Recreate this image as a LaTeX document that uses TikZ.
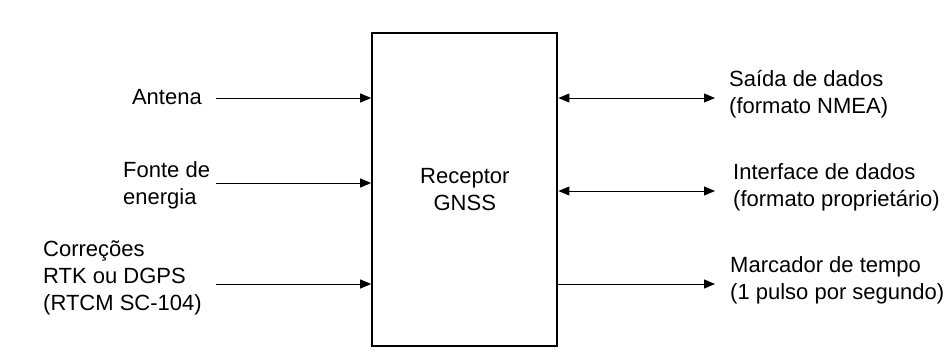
\documentclass[tikz,border=0pt]{standalone}
\usepackage{fontspec}
\setmainfont{Liberation Sans}
\usetikzlibrary{arrows.meta, positioning}

\tikzset{
  lbl/.style={font=\fontsize{22}{27}\selectfont, align=left, inner sep=0pt},
  conn/.style={line width=0.9pt, -{Triangle[length=11pt,width=9pt]}},
  biconn/.style={line width=0.9pt, {Triangle[length=11pt,width=9pt]}-{Triangle[length=11pt,width=9pt]}},
}

\begin{document}
\begin{tikzpicture}[x=1pt, y=-1pt]
    \useasboundingbox (0,0) rectangle (948,351);

    % the receiver block
    \node[draw, line width=2.2pt, minimum width=185pt, minimum height=312.5pt,
          lbl, align=center] (rx) at (464.8,189.5) {Receptor\\GNSS};

    % inputs on the left
    \node[lbl, anchor=east] (antena) at (202,97) {Antena};
    \node[lbl, anchor=west] (fonte) at (123,185) {Fonte de\\energia};
    \node[lbl, anchor=west] (correcoes) at (43,278) {Correções\\RTK ou DGPS\\(RTCM SC-104)};

    \coordinate (inA) at (216,98);
    \coordinate (inB) at (216,183);
    \coordinate (inC) at (216,284);

    \draw[conn] (inA) -- (inA -| rx.west);
    \draw[conn] (inB) -- (inB -| rx.west);
    \draw[conn] (inC) -- (inC -| rx.west);

    % outputs on the right
    \node[lbl, anchor=west] (saida) at (729,94) {Saída de dados\\(formato NMEA)};
    \node[lbl, anchor=west] (interface) at (733,187) {Interface de dados\\(formato proprietário)};
    \node[lbl, anchor=west] (marcador) at (730,280) {Marcador de tempo\\(1 pulso por segundo)};

    \coordinate (outA) at (715,98);
    \coordinate (outB) at (715,191);
    \coordinate (outC) at (715,284);

    \draw[biconn] (rx.east |- outA) -- (outA);
    \draw[biconn] (rx.east |- outB) -- (outB);
    \draw[conn] (rx.east |- outC) -- (outC);
\end{tikzpicture}
\end{document}
